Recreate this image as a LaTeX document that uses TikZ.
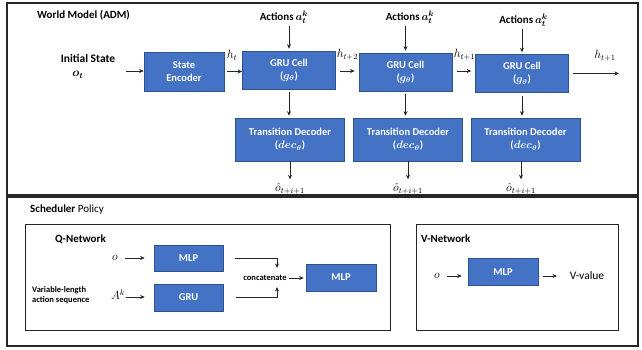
\documentclass[tikz,border=0pt]{standalone}
\usepackage{amsmath}
\usepackage{bm}
\usepackage{fontspec}
\setmainfont{Carlito}
\usetikzlibrary{arrows.meta}
\definecolor{boxblue}{HTML}{4472C4}
\definecolor{boxedge}{HTML}{2F528F}
\definecolor{ink}{HTML}{262626}
\begin{document}
\begin{tikzpicture}[x=1pt,y=-1pt,
  blk/.style={draw=boxedge, line width=0.6pt, fill=boxblue, text=white,
    font=\fontsize{10.5}{13}\selectfont\bfseries, align=center, inner sep=0pt},
  encbox/.style={blk, minimum width=80pt, minimum height=39pt},
  grucell/.style={blk, minimum width=93pt, minimum height=38pt},
  decoder/.style={blk, minimum width=109pt, minimum height=43pt},
  smallbox/.style={blk, minimum width=70pt, minimum height=27pt},
  arr/.style={-{Stealth[length=4.5pt,width=4pt]}, line width=0.8pt, draw=ink},
  frame/.style={draw=ink, line width=1.4pt},
  panel/.style={draw=ink, line width=1pt},
  heading/.style={font=\fontsize{11}{13}\selectfont\bfseries, anchor=west, inner sep=0pt},
  lbl/.style={font=\fontsize{11}{13}\selectfont, inner sep=0pt},
  mathlbl/.style={font=\fontsize{12}{14}\selectfont, inner sep=0pt},
  actlbl/.style={font=\fontsize{11}{13}\selectfont\bfseries, inner sep=0pt},
  tiny/.style={font=\fontsize{8.5}{10.5}\selectfont\bfseries, inner sep=0pt},
]
\useasboundingbox (0,0) rectangle (642,349);
\fill[white] (0,0) rectangle (642,349);

% ---------------- world model ----------------
\draw[frame] (7,3) rectangle (638,195);
\node[heading] (wmtitle) at (37,15) {World Model (ADM)};

\node[lbl, font=\fontsize{11.5}{13}\selectfont\bfseries] (init) at (88,58) {Initial State};
\node[mathlbl] (ot) at (78,75) {$\bm{o_t}$};
\coordinate (initout) at (126,71);

\node[encbox] (enc) at (184,71.5) {State\\Encoder};

\node[grucell] (g1) at (289,70) {GRU Cell\\($\bm{g_\theta}$)};
\node[grucell] (g2) at (405.5,72) {GRU Cell\\($\bm{g_\theta}$)};
\node[grucell] (g3) at (522,73.5) {GRU Cell\\($\bm{g_\theta}$)};

\node[decoder] (d1) at (290,139.5) {Transition Decoder\\($\bm{dec_\theta}$)};
\node[decoder] (d2) at (408,139.5) {Transition Decoder\\($\bm{dec_\theta}$)};
\node[decoder] (d3) at (525.5,139.5) {Transition Decoder\\($\bm{dec_\theta}$)};

\node[actlbl] (a1) at (284,17) {Actions\,$\bm{a^k_t}$};
\node[actlbl] (a2) at (410,17) {Actions\,$\bm{a^k_t}$};
\node[actlbl] (a3) at (523.5,20) {Actions\,$\bm{a^k_t}$};

\node[mathlbl] (o1) at (290,189) {$\hat{o}_{t+i+1}$};
\node[mathlbl] (o2) at (408,189) {$\hat{o}_{t+i+1}$};
\node[mathlbl] (o3) at (521,189) {$\hat{o}_{t+i+1}$};

\node[mathlbl] (h0) at (232,55) {$h_t$};
\node[mathlbl] (h1) at (347.5,55) {$h_{t+2}$};
\node[mathlbl] (h2) at (464.5,55) {$h_{t+1}$};
\node[mathlbl] (h3) at (605,56) {$h_{t+1}$};
\coordinate (hout) at (619,73.5);

\draw[arr] (initout) -- (enc.west |- initout);
\draw[arr, shorten <=3pt] (enc.east) -- (enc.east -| g1.west);
\draw[arr, shorten <=4pt, shorten >=4pt] (g1.east |- 0,71) -- (g2.west |- 0,71);
\draw[arr, shorten <=5pt, shorten >=4pt] (g2.east |- 0,71) -- (g3.west |- 0,71);
\draw[arr, shorten <=4pt] (g3.east) -- (hout);

\foreach \a/\g in {a1/g1, a2/g2, a3/g3}{
  \draw[arr, shorten >=2pt] ([yshift=-3pt]\a.south -| \g.north) -- (\g.north);
}
\foreach \g/\d in {g1/d1, g2/d2, g3/d3}{
  \draw[arr, shorten <=3pt, shorten >=2pt] (\g.south) -- (\g.south |- \d.north);
}
\foreach \d/\o in {d1/o1, d2/o2, d3/o3}{
  \draw[arr, shorten >=4pt] (\d.south -| \o.north) -- (\o.north);
}

% ---------------- scheduler policy ----------------
\draw[frame] (7,197) rectangle (638,346);
\node[heading, font=\fontsize{11}{13}\selectfont] (sptitle) at (30,210) {\textbf{Scheduler} Policy};

% Q-network
\draw[panel] (25,224) rectangle (390,330);
\node[heading] (qtitle) at (55,239) {Q-Network};

\node[smallbox, minimum width=69pt, minimum height=26pt] (qmlp) at (188.5,258) {MLP};
\node[smallbox, minimum width=69pt] (qgru) at (188.5,297.5) {GRU};
\node[smallbox] (qout) at (341,277.5) {MLP};

\node[mathlbl] (qo) at (115,258) {$o$};
\node[mathlbl] (qa) at (118,295) {$A^k$};
\node[tiny, align=left, anchor=west] (varlen) at (32,295) {Variable-length\\action sequence};
\node[tiny] (cc) at (265,278) {concatenate};
\coordinate (cj) at (277,278);

\draw[arr] ([xshift=10pt]qo.center) -- ([xshift=-9pt]qmlp.west);
\draw[arr] ([xshift=8pt,yshift=-2pt]qa.center) -- ([xshift=-9pt]qgru.west |- 0,297);
\draw[arr, shorten <=12pt] (qmlp.east) -| ([yshift=10pt]cj);
\draw[arr, shorten <=13pt] (qgru.east) -| ([yshift=-9pt]cj);
\draw[arr, shorten <=2pt, shorten >=2pt] (cc.east) -- (qout.west |- cc.east);

% V-network
\draw[panel] (416,224) rectangle (618,330);
\node[heading] (vtitle) at (421,239) {V-Network};
\node[smallbox] (vmlp) at (503,272) {MLP};
\node[mathlbl] (vo) at (437,276) {$o$};
\node[lbl, font=\fontsize{11.5}{13}\selectfont] (vval) at (587,276) {V-value};
\coordinate (vend) at (557,276);

\draw[arr] ([xshift=10pt]vo.center) -- ([xshift=-6pt]vmlp.west |- vo.center);
\draw[arr, shorten <=5pt] (vmlp.east |- vend) -- (vend);
\end{tikzpicture}
\end{document}
